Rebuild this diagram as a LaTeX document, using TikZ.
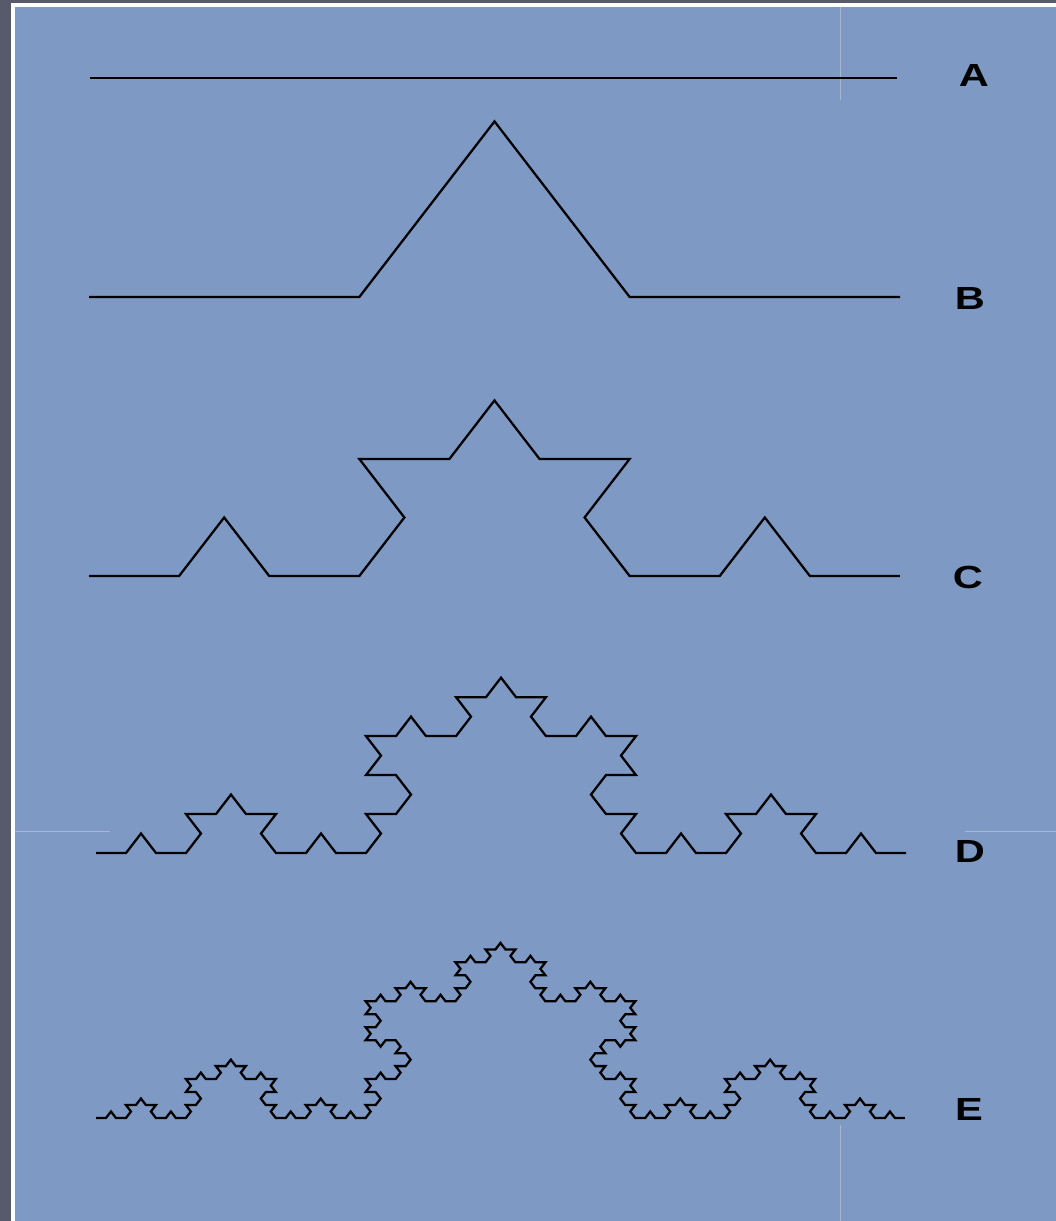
\documentclass[tikz,border=0pt]{standalone}
\usepackage{fontspec}
\usepackage{graphicx}
\setmainfont{Liberation Sans}
\usetikzlibrary{lindenmayersystems}
\definecolor{slideblue}{RGB}{126,153,196}
\definecolor{framegray}{RGB}{86,90,107}
\tikzset{
  curve/.style={draw=black, line width=1.7pt, line join=miter},
  lbl/.style={font=\bfseries\fontsize{24}{24}\selectfont, text=black, inner sep=0pt},
  seam/.style={draw=white, opacity=0.3, line width=0.75pt}
}
\pgfdeclarelindenmayersystem{koch}{\rule{F -> F+F--F+F}}
\begin{document}
\begin{tikzpicture}[x=0.75pt,y=0.75pt]
\useasboundingbox (0,0) rectangle (1056,-1221);
% frame and background
\fill[framegray] (0,0) rectangle (1056,-1221);
\fill[white] (11,-3) rectangle (1056,-1221);
\fill[slideblue] (15,-7) rectangle (1056,-1221);
% faint seams of the texture
\draw[seam] (840,-7) -- (840,-100);
\draw[seam] (840,-1125) -- (840,-1221);
\draw[seam] (15,-831) -- (110,-831);
\draw[seam] (965,-831) -- (1056,-831);
% A
\coordinate (a0) at (90,-78);
\coordinate (a1) at (897,-78);
\draw[curve] (a0) -- (a1);
% B
\begin{scope}[shift={(89,-297)}, yscale=0.75]
\draw[curve, l-system={koch, axiom=F, order=1, angle=60, step=202.75pt}] (0,0) l-system;
\end{scope}
% C
\begin{scope}[shift={(89,-576)}, yscale=0.75]
\draw[curve, l-system={koch, axiom=F, order=2, angle=60, step=67.58pt}] (0,0) l-system;
\end{scope}
% D
\begin{scope}[shift={(96,-853)}, yscale=0.75]
\draw[curve, l-system={koch, axiom=F, order=3, angle=60, step=22.5pt}] (0,0) l-system;
\end{scope}
% E
\begin{scope}[shift={(96,-1118)}, yscale=0.75]
\draw[curve, l-system={koch, axiom=F, order=4, angle=60, step=7.49pt}] (0,0) l-system;
\end{scope}
% labels
\node[lbl] (A) at (974,-75) {\scalebox{1.3}[1]{A}};
\node[lbl] (B) at (970,-298) {\scalebox{1.3}[1]{B}};
\node[lbl] (C) at (968,-577) {\scalebox{1.3}[1]{C}};
\node[lbl] (D) at (970,-851) {\scalebox{1.3}[1]{D}};
\node[lbl] (E) at (969,-1109) {\scalebox{1.3}[1]{E}};
\end{tikzpicture}
\end{document}
